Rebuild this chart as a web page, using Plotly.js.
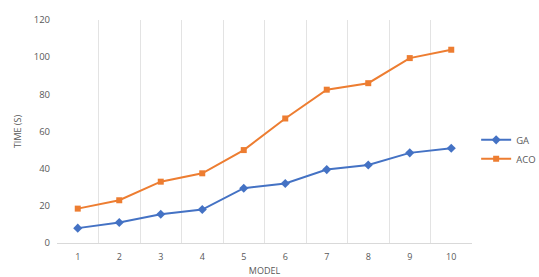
<!DOCTYPE html>
<html>
<head>
<meta charset="utf-8">
<script src="https://cdn.plot.ly/plotly-3.0.1.min.js"></script>
<style>html,body{margin:0;padding:0;background:#fff;}#chart{width:539px;height:277px;}</style>
</head>
<body>
<div id="chart"></div>
<script>
const models = ["1","2","3","4","5","6","7","8","9","10"];
const gaTime = [8, 11, 15.5, 18, 29.5, 32, 39.5, 42, 48.5, 51];
const acoTime = [18.5, 23, 33, 37.5, 50, 67, 82.5, 86, 99.5, 104];
const yTicks = [0, 20, 40, 60, 80, 100, 120];

const traces = [
  {x: models, y: gaTime, name: "GA", type: "scatter", mode: "lines+markers",
   line: {color: "#4472C4", width: 2}, marker: {symbol: "diamond", size: 7, color: "#4472C4"}},
  {x: models, y: acoTime, name: "ACO", type: "scatter", mode: "lines+markers",
   line: {color: "#ED7D31", width: 2}, marker: {symbol: "square", size: 6, color: "#ED7D31"}}
];

const layout = {
  width: 539, height: 277,
  margin: {l: 57, r: 67, t: 20, b: 34, autoexpand: false},
  paper_bgcolor: "#fff", plot_bgcolor: "#fff",
  font: {family: "Open Sans, sans-serif", size: 9, color: "#595959"},
  xaxis: {type: "category", range: [-0.5, 9.5], tickson: "boundaries", showgrid: true,
    gridcolor: "#e3e3e3", gridwidth: 1, showline: true, linecolor: "#d9d9d9", ticks: "",
    automargin: false, ticklabelstandoff: 5,
    title: {text: "MODEL", font: {size: 9, color: "#595959"}, standoff: 8}, fixedrange: true},
  yaxis: {range: [0, 120], tickvals: yTicks, showgrid: false, zeroline: false, showline: false,
    ticks: "", ticklen: 0, ticklabelstandoff: 6, automargin: false,
    tickfont: {size: 9.5},
    title: {text: "TIME (S)", font: {size: 9, color: "#595959"}, standoff: 10}},
  showlegend: true,
  legend: {x: 1.01, xanchor: "left", y: 0.42, yanchor: "middle", font: {size: 9.5, color: "#595959"},
    bgcolor: "rgba(0,0,0,0)", tracegroupgap: 4, itemwidth: 30}
};

Plotly.newPlot("chart", traces, layout, {displayModeBar: false, staticPlot: true});
</script>
</body>
</html>
